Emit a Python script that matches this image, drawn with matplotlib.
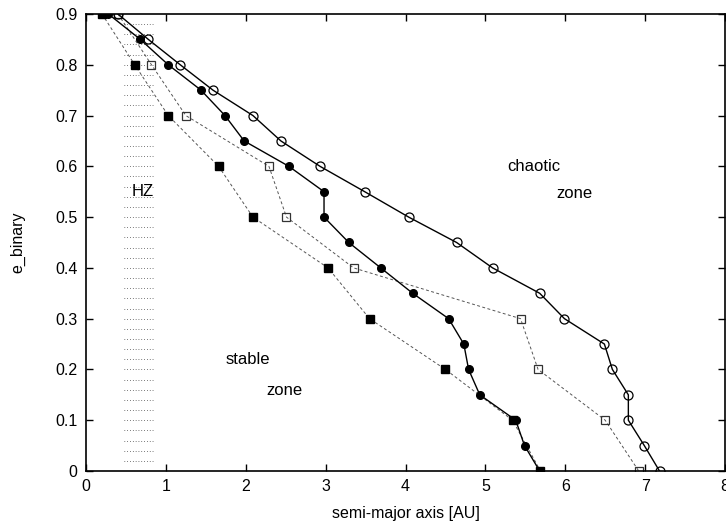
import numpy as np
import matplotlib
matplotlib.use("Agg")
import matplotlib.pyplot as plt

plt.rcParams['font.family'] = ['Liberation Sans', 'DejaVu Sans']

# eccentricity of the binary for each curve
e_circ = [0.9, 0.85, 0.8, 0.75, 0.7, 0.65, 0.6, 0.55, 0.5, 0.45, 0.4, 0.35,
          0.3, 0.25, 0.2, 0.15, 0.1, 0.05, 0.0]
a_open_circ = [0.40, 0.78, 1.18, 1.59, 2.09, 2.44, 2.93, 3.49, 4.04, 4.64, 5.09,
               5.68, 5.99, 6.49, 6.59, 6.79, 6.79, 6.99, 7.18]
a_fill_circ = [0.28, 0.68, 1.03, 1.44, 1.74, 1.98, 2.54, 2.98, 2.98, 3.29, 3.69,
               4.09, 4.54, 4.73, 4.79, 4.93, 5.38, 5.49, 5.68]

e_sq = [0.9, 0.8, 0.7, 0.6, 0.5, 0.4, 0.3, 0.2, 0.1, 0.0]
a_fill_sq = [0.20, 0.61, 1.03, 1.66, 2.09, 3.03, 3.55, 4.50, 5.34, 5.69]
a_open_sq = [0.40, 0.82, 1.25, 2.29, 2.51, 3.35, 5.44, 5.66, 6.50, 6.92]

# habitable zone
hz_lo, hz_hi = 0.48, 0.855
hz_rows = np.arange(0.02, 0.89, 0.02)

fig = plt.figure(figsize=(7.26, 5.21), dpi=100)
ax = fig.add_axes([86 / 726, 50 / 521, 639 / 726, 457 / 521])

ax.hlines(hz_rows, hz_lo, hz_hi, colors="#444444", linewidth=0.7,
          linestyles=(0, (0.7, 2.2)))

ax.plot(a_fill_sq, e_sq, color="#555555", lw=0.7, dashes=(3, 2.5),
        marker="s", ms=6, mfc="black", mec="black")
ax.plot(a_open_sq, e_sq, color="#555555", lw=0.7, dashes=(3, 2.5),
        marker="s", ms=5.5, mfc="none", mec="#333333", mew=0.9)
ax.plot(a_fill_circ, e_circ, color="black", lw=1.0,
        marker="o", ms=5.5, mfc="black", mec="black")
ax.plot(a_open_circ, e_circ, color="black", lw=1.0,
        marker="o", ms=6.5, mfc="none", mec="black", mew=0.9)

fs = 12
ax.text(0.71, 0.55, "HZ", fontsize=fs, ha="center", va="center")
ax.text(5.61, 0.599, "chaotic", fontsize=fs, ha="center", va="center")
ax.text(6.11, 0.547, "zone", fontsize=fs, ha="center", va="center")
ax.text(2.02, 0.219, "stable", fontsize=fs, ha="center", va="center")
ax.text(2.49, 0.158, "zone", fontsize=fs, ha="center", va="center")

ax.set_xlim(0, 8)
ax.set_ylim(0, 0.9)
ax.set_xticks(range(0, 9))
ax.set_yticks(np.arange(0, 0.91, 0.1))
ax.set_yticklabels(["0", "0.1", "0.2", "0.3", "0.4", "0.5", "0.6", "0.7", "0.8", "0.9"])
ax.tick_params(direction="in", length=5, width=1, top=True, right=True,
               labelsize=11.5, pad=6)
for sp in ax.spines.values():
    sp.set_linewidth(1.2)

ax.set_xlabel("semi-major axis [AU]", fontsize=11.5, va="center")
ax.xaxis.set_label_coords(0.5, -0.092)
ax.set_ylabel("e_binary", fontsize=11.5, va="center")
ax.yaxis.set_label_coords(-0.106, 0.5)

fig.savefig("out.png", dpi=100)
